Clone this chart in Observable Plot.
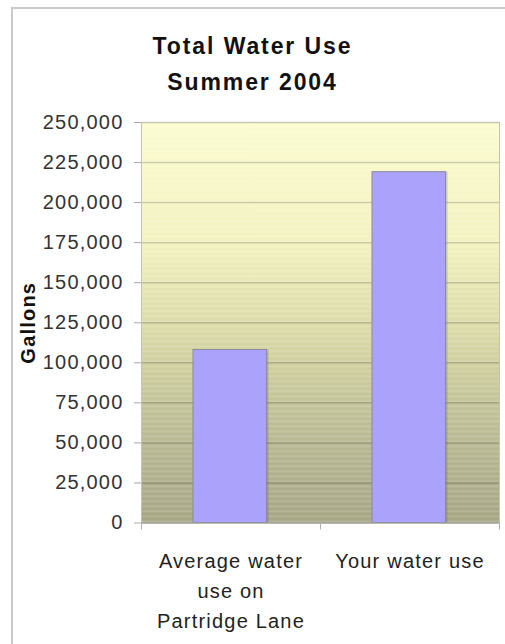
<!DOCTYPE html>
<html>
<head>
<meta charset="utf-8">
<script src="https://cdn.jsdelivr.net/npm/d3@7"></script>
<script src="https://cdn.jsdelivr.net/npm/@observablehq/plot@0.6"></script>
<style>
  html, body { margin: 0; padding: 0; background: #fff; }
  #wrap { position: relative; width: 505px; height: 644px; overflow: hidden; font-family: "Liberation Sans", Arial, sans-serif; }
  #frame { position: absolute; left: 11px; top: 7px; width: 600px; height: 700px; border-left: 2px solid #c9c9c9; border-top: 2px solid #c9c9c9; }
  #title { position: absolute; left: 0; top: 28px; width: 505px; text-align: center; font-weight: bold; font-size: 23px; line-height: 36px; color: #111; letter-spacing: 1.9px; }
  #chart { position: absolute; left: 0; top: 0; }
</style>
</head>
<body>
<div id="wrap">
  <div id="frame"></div>
  <div id="chart"></div>
  <div id="title">Total Water Use<br>Summer 2004</div>
</div>
<script>
const titleLines = ["Total Water Use", "Summer 2004"];
const categories = ["Average water\nuse on\nPartridge Lane", "Your water use"];
const values = [108000, 219000];
const yTicks = [0, 25000, 50000, 75000, 100000, 125000, 150000, 175000, 200000, 225000, 250000];
const yLabel = "Gallons";

const data = categories.map((c, i) => ({category: c, value: values[i]}));

const W = 505, H = 644, mL = 141, mR = 6, mT = 122, mB = 121.5;
const step = (W - mL - mR) / categories.length;

const chart = Plot.plot({
  width: W,
  height: H,
  marginLeft: mL,
  marginRight: mR,
  marginTop: mT,
  marginBottom: mB,
  style: {fontFamily: "'Liberation Sans', Arial, sans-serif", background: "transparent", overflow: "visible", letterSpacing: "1.2px"},
  x: {domain: categories, padding: 0, label: null},
  y: {domain: [0, 250000], label: null},
  marks: [
    Plot.frame({fill: "url(#bgGrad)"}),
    Plot.frame({fill: "url(#stripes)"}),
    Plot.gridY(yTicks, {stroke: "#000", strokeOpacity: 0.17, strokeWidth: 1.5}),
    Plot.frame({stroke: "#c4c4b0", strokeWidth: 1}),
    Plot.barY(data, {x: "category", y: "value", fill: "#555", fillOpacity: 0.25, dx: 2, insetLeft: 52, insetRight: 53.5}),
    Plot.barY(data, {x: "category", y: "value", fill: "#aba2fc", stroke: "#8a8aa0", strokeWidth: 1, insetLeft: 52, insetRight: 53.5}),
    Plot.ruleY([0], {stroke: "#a0a0a0", strokeWidth: 1.2}),
    Plot.axisY(yTicks, {
      tickFormat: d3.format(","),
      tickSize: 7,
      tickPadding: 11,
      fontSize: 20,
      fill: "#333",
      stroke: "#a8a8a8",
      label: null
    }),
    Plot.axisX({
      tickSize: 0,
      tickPadding: 24,
      fontSize: 20,
      lineHeight: 1.5,
      fill: "#222",
      label: null
    }),
    Plot.ruleX(categories, {x: d => d, dx: -step / 2, y1: 0, y2: 0, insetBottom: -7, stroke: "#b0b0b0"}),
    Plot.ruleX([categories[categories.length - 1]], {x: d => d, dx: step / 2, y1: 0, y2: 0, insetBottom: -7, stroke: "#b0b0b0"}),
    Plot.text([yLabel], {frameAnchor: "left", textAnchor: "middle", rotate: -90, dx: -113, fontWeight: "bold", fontSize: 20, fill: "#111"})
  ]
});

// gradient + stripe defs
const ns = "http://www.w3.org/2000/svg";
const defs = document.createElementNS(ns, "defs");
defs.innerHTML = `
  <linearGradient id="bgGrad" x1="0" y1="0" x2="0" y2="1">
    <stop offset="0" stop-color="#fbfbd0"/>
    <stop offset="0.3" stop-color="#f2f2c0"/>
    <stop offset="0.5" stop-color="#dcdcaa"/>
    <stop offset="0.62" stop-color="#cdcd9e"/>
    <stop offset="0.8" stop-color="#b8b893"/>
    <stop offset="1" stop-color="#a6a685"/>
  </linearGradient>
  <pattern id="stripes" patternUnits="userSpaceOnUse" width="10" height="5">
    <rect x="0" y="0" width="10" height="1.5" fill="#ffffff" fill-opacity="0.18"/>
  </pattern>`;
chart.insertBefore(defs, chart.firstChild);

document.getElementById("chart").appendChild(chart);
</script>
</body>
</html>
